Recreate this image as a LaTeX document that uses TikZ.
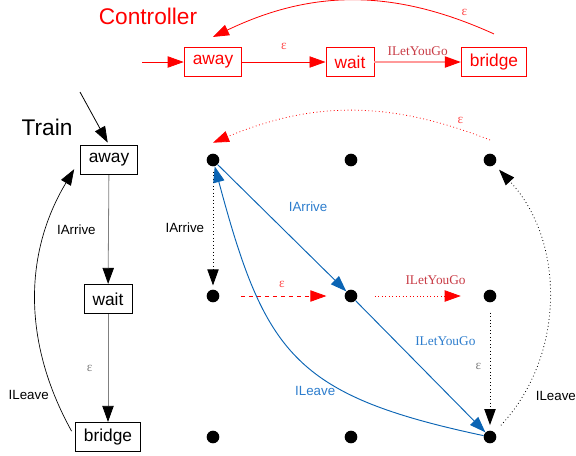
\documentclass[tikz,border=0pt]{standalone}
\usepackage{fontspec}
\setmainfont{Liberation Sans}
\newfontfamily\tnr{Liberation Serif}
\usetikzlibrary{arrows.meta,positioning}
\definecolor{lineblue}{RGB}{10,100,180}
\definecolor{lblblue}{RGB}{45,125,205}
\definecolor{lblred}{RGB}{200,60,70}

\begin{document}
\begin{tikzpicture}[x=0.75pt, y=-0.75pt, >={Triangle[length=12pt,width=8.5pt]},
    state/.style={draw, line width=0.6pt, minimum height=22pt, inner xsep=6.5pt, font=\fontsize{13}{15}\selectfont},
    dot/.style={circle, fill=black, inner sep=0pt, minimum size=9.5pt},
    lbl/.style={font=\fontsize{10}{12}\selectfont},
    slbl/.style={font=\tnr\fontsize{10}{12}\selectfont},
    big/.style={font=\fontsize{17}{20}\selectfont}]
            \useasboundingbox (0,0) rectangle (576,455);
            % Controller
            \node[big, red] (ctrl) at (148,16) {Controller};
            \node[state, red] (cAway) at (213,62) {away};
            \node[state, red] (cWait) at (350,62) {wait};
            \node[state, red] (cBridge) at (494,62) {bridge};
            \coordinate (cStart) at (142,62);
            \draw[->, red, line width=0.6pt] (cStart) -- (cAway);
            \draw[->, red, line width=0.6pt] (cAway) -- node[slbl, red!70, above=6pt] {ε} (cWait);
            \draw[-{Triangle[length=12pt,width=8.5pt,color=red]}, red!40, line width=0.8pt] (cWait) -- node[slbl, lblred, above=1pt] {ILetYouGo} (cBridge);
            \draw[->, red, line width=0.6pt] ([yshift=9.75pt]cBridge.north) to[bend right=25]
                  node[pos=0.1, slbl, red!70, above=1pt] {ε} ([yshift=7.5pt]cAway.north);
            % Train
            \node[big] (train) at (47,127) {Train};
            \node[state] (tAway) at (109,160) {away};
            \node[state] (tWait) at (108,299) {wait};
            \node[state] (tBridge) at (108,437) {bridge};
            \coordinate (tStart) at (80,92);
            \draw[->, line width=0.6pt, shorten >=2pt] (tStart) -- (tAway.north);
            \draw[-{Triangle[length=12pt,width=8.5pt,color=black]}, gray, line width=0.6pt] (tAway) -- node[lbl, text=black, left=6pt] {IArrive} (tWait);
            \draw[-{Triangle[length=12pt,width=8.5pt,color=black]}, gray, line width=0.6pt] (tWait) -- node[slbl, gray, left=8pt] {ε} (tBridge);
            \draw[->, line width=0.5pt, shorten <=5pt, shorten >=8pt] (tBridge.west) to[bend left=30]
                  node[pos=0.15, lbl, left=1pt] {ILeave} (tAway.west);
            % grid of product states
            \foreach \r/\y in {1/160,2/296,3/437}
              \foreach \c/\x in {1/213,2/351,3/490}
                \node[dot] (g\r\c) at (\x,\y) {};
            % moves of one side only
            \draw[->, red, dotted, line width=0.6pt] ([yshift=15pt]g13.center) to[bend right=22]
                  node[pos=0.1, slbl, red!70, above=1pt] {ε} ([yshift=13pt]g11.center);
            \draw[->, dotted, line width=0.6pt, shorten <=4pt, shorten >=3pt] (g11) -- node[lbl, left=3pt] {IArrive} (g21);
            \draw[->, red, dashed, line width=0.6pt, shorten <=16pt, shorten >=13.5pt] (g21) -- node[slbl, red!70, above=3pt] {ε} (g22);
            \draw[->, red, dotted, line width=0.6pt, shorten <=13pt, shorten >=17pt] (g22) -- node[pos=0.62, slbl, lblred, above=5pt] {ILetYouGo} (g23);
            \draw[->, dotted, line width=0.6pt, shorten <=7.5pt, shorten >=4pt] (g23) -- node[slbl, gray, left=3pt] {ε} (g33);
            \draw[->, dotted, line width=0.6pt, shorten <=7pt, shorten >=5pt] (g33) to[bend right=43]
                  node[pos=0.15, lbl, right=7pt] {ILeave} (g13);
            % synchronised moves
            \draw[->, lineblue, line width=0.7pt] (g11) -- node[lbl, lblblue, above right=2pt, yshift=7.5pt] {IArrive} (g22);
            \draw[->, lineblue, line width=0.7pt] (g22) -- node[slbl, lblblue, above right=2pt, xshift=-9pt, yshift=10.5pt] {ILetYouGo} (g33);
            \draw[->, lineblue, line width=0.7pt] (g33) to[out=168, in=-75, looseness=1.3]
                  node[pos=0.45, lbl, lblblue, below=3pt, xshift=5pt, yshift=-8pt] {ILeave} (g11);
          \end{tikzpicture}
\end{document}
